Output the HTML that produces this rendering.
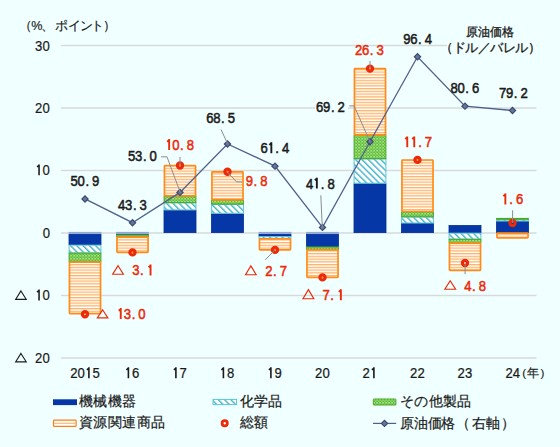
<!DOCTYPE html>
<html><head><meta charset="utf-8"><style>
html,body{margin:0;padding:0;background:#F0FFFF;}
body{width:560px;height:447px;overflow:hidden;}
svg{display:block;font-family:"Liberation Sans",sans-serif;}
</style></head><body>
<svg width="560" height="447" viewBox="0 0 560 447">
<defs>
<pattern id="pc" patternUnits="userSpaceOnUse" width="4.45" height="4.45" patternTransform="rotate(-45)">
<rect width="4.45" height="4.45" fill="#fff"/><rect width="1.4" height="4.45" fill="#42B4CA"/>
</pattern>
<pattern id="pg" patternUnits="userSpaceOnUse" width="3" height="3">
<rect width="3" height="3" fill="#8CD46A"/><rect x="0" y="0" width="1.5" height="1.5" fill="#5EBC34"/><rect x="1.5" y="1.5" width="1.5" height="1.5" fill="#5EBC34"/><rect x="1.5" y="0.2" width="1.1" height="1.1" fill="#C8EEB4"/>
</pattern>
<pattern id="po" patternUnits="userSpaceOnUse" width="2.75" height="2.75">
<rect width="2.75" height="2.75" fill="#fff"/><rect y="0" width="2.75" height="1.3" fill="#FFB468"/>
</pattern>
</defs>
<rect width="560" height="447" fill="#F0FFFF"/>
<line x1="61" y1="45.50" x2="536.5" y2="45.50" stroke="#D9D9D9" stroke-width="1.3"/>
<line x1="61" y1="108.00" x2="536.5" y2="108.00" stroke="#D9D9D9" stroke-width="1.3"/>
<line x1="61" y1="170.50" x2="536.5" y2="170.50" stroke="#D9D9D9" stroke-width="1.3"/>
<line x1="61" y1="233.00" x2="536.5" y2="233.00" stroke="#D9D9D9" stroke-width="1.3"/>
<line x1="61" y1="295.50" x2="536.5" y2="295.50" stroke="#D9D9D9" stroke-width="1.3"/>
<line x1="61" y1="358.00" x2="536.5" y2="358.00" stroke="#D9D9D9" stroke-width="1.3"/>
<rect x="68.60" y="231.9" width="32.80" height="0.9" fill="#7D9BDA"/>
<rect x="69.00" y="234.10" width="32.00" height="10.50" fill="#0537A6" stroke="#002E96" stroke-width="0.8"/>
<rect x="69.10" y="245.20" width="31.80" height="7.60" fill="url(#pc)" stroke="#5CC4D8" stroke-width="1"/>
<rect x="69.10" y="253.20" width="31.80" height="8.60" fill="url(#pg)" stroke="#4CA820" stroke-width="1"/>
<rect x="69.45" y="262.10" width="31.10" height="51.55" rx="0.6" fill="url(#po)" stroke="#FF8C1A" stroke-width="1.7"/>
<rect x="116.10" y="231.9" width="32.80" height="0.9" fill="#7D9BDA"/>
<rect x="116.50" y="234.10" width="32.00" height="0.30" fill="#0537A6" stroke="#002E96" stroke-width="0.8"/>
<rect x="116.60" y="235.00" width="31.80" height="1.80" fill="url(#pg)" stroke="#4CA820" stroke-width="1"/>
<rect x="116.95" y="237.10" width="31.10" height="15.20" rx="0.6" fill="url(#po)" stroke="#FF8C1A" stroke-width="1.7"/>
<rect x="164.00" y="210.50" width="32.00" height="22.10" fill="#0537A6" stroke="#002E96" stroke-width="0.8"/>
<rect x="164.10" y="202.95" width="31.80" height="6.95" fill="url(#pc)" stroke="#5CC4D8" stroke-width="1"/>
<rect x="164.10" y="196.20" width="31.80" height="6.35" fill="url(#pg)" stroke="#4CA820" stroke-width="1"/>
<rect x="164.45" y="165.60" width="31.10" height="30.30" rx="0.6" fill="url(#po)" stroke="#FF8C1A" stroke-width="1.7"/>
<rect x="211.50" y="213.90" width="32.00" height="18.70" fill="#0537A6" stroke="#002E96" stroke-width="0.8"/>
<rect x="211.60" y="204.50" width="31.80" height="8.80" fill="url(#pc)" stroke="#5CC4D8" stroke-width="1"/>
<rect x="211.60" y="200.20" width="31.80" height="3.90" fill="url(#pg)" stroke="#4CA820" stroke-width="1"/>
<rect x="211.95" y="171.85" width="31.10" height="28.05" rx="0.6" fill="url(#po)" stroke="#FF8C1A" stroke-width="1.7"/>
<rect x="258.60" y="231.9" width="32.80" height="0.9" fill="#7D9BDA"/>
<rect x="259.00" y="234.10" width="32.00" height="2.00" fill="#0537A6" stroke="#002E96" stroke-width="0.8"/>
<rect x="259.10" y="236.70" width="31.80" height="1.90" fill="url(#pc)" stroke="#5CC4D8" stroke-width="1"/>
<rect x="259.45" y="238.90" width="31.10" height="11.00" rx="0.6" fill="url(#po)" stroke="#FF8C1A" stroke-width="1.7"/>
<rect x="306.10" y="231.9" width="32.80" height="0.9" fill="#7D9BDA"/>
<rect x="306.50" y="234.10" width="32.00" height="12.40" fill="#0537A6" stroke="#002E96" stroke-width="0.8"/>
<rect x="306.60" y="247.10" width="31.80" height="2.50" fill="url(#pg)" stroke="#4CA820" stroke-width="1"/>
<rect x="306.95" y="249.90" width="31.10" height="27.40" rx="0.6" fill="url(#po)" stroke="#FF8C1A" stroke-width="1.7"/>
<rect x="354.00" y="183.80" width="32.00" height="48.80" fill="#0537A6" stroke="#002E96" stroke-width="0.8"/>
<rect x="354.10" y="159.00" width="31.80" height="24.20" fill="url(#pc)" stroke="#5CC4D8" stroke-width="1"/>
<rect x="354.10" y="135.20" width="31.80" height="23.40" fill="url(#pg)" stroke="#4CA820" stroke-width="1"/>
<rect x="354.45" y="68.70" width="31.10" height="66.20" rx="0.6" fill="url(#po)" stroke="#FF8C1A" stroke-width="1.7"/>
<rect x="401.50" y="223.60" width="32.00" height="9.00" fill="#0537A6" stroke="#002E96" stroke-width="0.8"/>
<rect x="401.60" y="217.10" width="31.80" height="5.90" fill="url(#pc)" stroke="#5CC4D8" stroke-width="1"/>
<rect x="401.60" y="211.80" width="31.80" height="4.90" fill="url(#pg)" stroke="#4CA820" stroke-width="1"/>
<rect x="401.95" y="160.00" width="31.10" height="51.50" rx="0.6" fill="url(#po)" stroke="#FF8C1A" stroke-width="1.7"/>
<rect x="449.00" y="225.50" width="32.00" height="7.10" fill="#0537A6" stroke="#002E96" stroke-width="0.8"/>
<rect x="449.10" y="233.20" width="31.80" height="5.80" fill="url(#pc)" stroke="#5CC4D8" stroke-width="1"/>
<rect x="449.10" y="239.40" width="31.80" height="3.40" fill="url(#pg)" stroke="#4CA820" stroke-width="1"/>
<rect x="449.45" y="243.10" width="31.10" height="27.20" rx="0.6" fill="url(#po)" stroke="#FF8C1A" stroke-width="1.7"/>
<rect x="496.50" y="221.60" width="32.00" height="11.00" fill="#0537A6" stroke="#002E96" stroke-width="0.8"/>
<rect x="496.60" y="219.70" width="31.80" height="1.30" fill="url(#pc)" stroke="#5CC4D8" stroke-width="1"/>
<rect x="496.60" y="218.40" width="31.80" height="0.90" fill="url(#pg)" stroke="#4CA820" stroke-width="1"/>
<rect x="496.95" y="233.10" width="31.10" height="4.80" rx="0.6" fill="url(#po)" stroke="#FF8C1A" stroke-width="1.7"/>
<polyline points="85.00,198.94 132.50,222.69 180.00,192.38 227.50,143.94 275.00,166.12 322.50,227.38 370.00,141.75 417.50,56.75 465.00,106.13 512.50,110.50" fill="none" stroke="#50608C" stroke-width="1.3"/>
<rect x="82.80" y="196.74" width="4.4" height="4.4" transform="rotate(45 85.00 198.94)" fill="#66769C" stroke="#3A4A70" stroke-width="1.2"/>
<rect x="130.30" y="220.49" width="4.4" height="4.4" transform="rotate(45 132.50 222.69)" fill="#66769C" stroke="#3A4A70" stroke-width="1.2"/>
<rect x="177.80" y="190.18" width="4.4" height="4.4" transform="rotate(45 180.00 192.38)" fill="#66769C" stroke="#3A4A70" stroke-width="1.2"/>
<rect x="225.30" y="141.74" width="4.4" height="4.4" transform="rotate(45 227.50 143.94)" fill="#66769C" stroke="#3A4A70" stroke-width="1.2"/>
<rect x="272.80" y="163.93" width="4.4" height="4.4" transform="rotate(45 275.00 166.12)" fill="#66769C" stroke="#3A4A70" stroke-width="1.2"/>
<rect x="320.30" y="225.18" width="4.4" height="4.4" transform="rotate(45 322.50 227.38)" fill="#66769C" stroke="#3A4A70" stroke-width="1.2"/>
<rect x="367.80" y="139.55" width="4.4" height="4.4" transform="rotate(45 370.00 141.75)" fill="#66769C" stroke="#3A4A70" stroke-width="1.2"/>
<rect x="415.30" y="54.55" width="4.4" height="4.4" transform="rotate(45 417.50 56.75)" fill="#66769C" stroke="#3A4A70" stroke-width="1.2"/>
<rect x="462.80" y="103.93" width="4.4" height="4.4" transform="rotate(45 465.00 106.13)" fill="#66769C" stroke="#3A4A70" stroke-width="1.2"/>
<rect x="510.30" y="108.30" width="4.4" height="4.4" transform="rotate(45 512.50 110.50)" fill="#66769C" stroke="#3A4A70" stroke-width="1.2"/>
<circle cx="85.00" cy="314.25" r="2.6" fill="none" stroke="#EC2A0A" stroke-width="3.2"/>
<circle cx="132.50" cy="252.38" r="2.6" fill="none" stroke="#EC2A0A" stroke-width="3.2"/>
<circle cx="180.00" cy="165.50" r="2.6" fill="none" stroke="#EC2A0A" stroke-width="3.2"/>
<circle cx="227.50" cy="171.75" r="2.6" fill="none" stroke="#EC2A0A" stroke-width="3.2"/>
<circle cx="275.00" cy="249.88" r="2.6" fill="none" stroke="#EC2A0A" stroke-width="3.2"/>
<circle cx="322.50" cy="277.38" r="2.6" fill="none" stroke="#EC2A0A" stroke-width="3.2"/>
<circle cx="370.00" cy="68.62" r="2.6" fill="none" stroke="#EC2A0A" stroke-width="3.2"/>
<circle cx="417.50" cy="159.88" r="2.6" fill="none" stroke="#EC2A0A" stroke-width="3.2"/>
<circle cx="465.00" cy="263.00" r="2.6" fill="none" stroke="#EC2A0A" stroke-width="3.2"/>
<circle cx="512.50" cy="223.00" r="2.6" fill="none" stroke="#EC2A0A" stroke-width="3.2"/>
<polyline points="161.00,156.80 167.00,156.80 180.20,192.30" fill="none" stroke="#8C8C8C" stroke-width="1"/>
<polyline points="221.00,129.50 227.50,143.50" fill="none" stroke="#8C8C8C" stroke-width="1"/>
<polyline points="349.30,105.90 354.10,105.90 370.00,141.75" fill="none" stroke="#8C8C8C" stroke-width="1"/>
<polyline points="320.80,195.40 322.30,227.40" fill="none" stroke="#8C8C8C" stroke-width="1"/>
<polyline points="180.00,157.00 180.00,165.50" fill="none" stroke="#8C8C8C" stroke-width="1"/>
<polyline points="227.30,172.00 236.60,181.90 242.00,181.90" fill="none" stroke="#8C8C8C" stroke-width="1"/>
<polyline points="275.40,249.60 265.20,259.80" fill="none" stroke="#8C8C8C" stroke-width="1"/>
<polyline points="370.00,61.00 370.00,68.60" fill="none" stroke="#8C8C8C" stroke-width="1"/>
<polyline points="465.10,262.70 465.10,274.10" fill="none" stroke="#8C8C8C" stroke-width="1"/>
<polyline points="512.60,210.30 512.60,223.00" fill="none" stroke="#8C8C8C" stroke-width="1"/>
<rect x="315" y="99" width="33" height="14" fill="#F0FFFF"/>
<text x="83.49 91.78 101.07 108.93" y="186.10" transform="scale(0.845,1.000)" font-size="15.50" fill="#1a1a1a" stroke="#1a1a1a" stroke-width="0.55">50.9</text>
<text x="139.70 147.99 157.28 165.15" y="209.60" transform="scale(0.845,1.000)" font-size="15.50" fill="#1a1a1a" stroke="#1a1a1a" stroke-width="0.55">43.3</text>
<text x="151.54 159.82 169.11 176.98" y="161.00" transform="scale(0.845,1.000)" font-size="15.50" fill="#1a1a1a" stroke="#1a1a1a" stroke-width="0.55">53.0</text>
<text x="244.08 252.37 261.66 269.53" y="122.90" transform="scale(0.845,1.000)" font-size="15.50" fill="#1a1a1a" stroke="#1a1a1a" stroke-width="0.55">68.5</text>
<text x="308.22 325.80 333.67" y="153.20" transform="scale(0.845,1.000)" font-size="15.50" fill="#1a1a1a" stroke="#1a1a1a" stroke-width="0.55">6.4</text>
<path d="M271.35 142.30V153.20 M269.35 144.90L271.75 142.80" fill="none" stroke="#1a1a1a" stroke-width="1.90" stroke-linecap="butt"/>
<text x="362.07 379.64 387.51" y="188.60" transform="scale(0.845,1.000)" font-size="15.50" fill="#1a1a1a" stroke="#1a1a1a" stroke-width="0.55">4.8</text>
<path d="M316.85 177.70V188.60 M314.85 180.30L317.25 178.20" fill="none" stroke="#1a1a1a" stroke-width="1.90" stroke-linecap="butt"/>
<text x="374.02 382.31 391.60 399.47" y="112.00" transform="scale(0.845,1.000)" font-size="15.50" fill="#1a1a1a" stroke="#1a1a1a" stroke-width="0.55">69.2</text>
<text x="477.16 485.44 494.73 502.60" y="44.00" transform="scale(0.845,1.000)" font-size="15.50" fill="#1a1a1a" stroke="#1a1a1a" stroke-width="0.55">96.4</text>
<text x="533.08 541.36 550.65 558.52" y="92.90" transform="scale(0.845,1.000)" font-size="15.50" fill="#1a1a1a" stroke="#1a1a1a" stroke-width="0.55">80.6</text>
<text x="590.47 598.76 608.05 615.92" y="97.70" transform="scale(0.845,1.000)" font-size="15.50" fill="#1a1a1a" stroke="#1a1a1a" stroke-width="0.55">79.2</text>
<text x="146.57 155.86 163.73" y="319.00" transform="scale(0.845,1.000)" font-size="15.50" fill="#EC2A0A" stroke="#EC2A0A" stroke-width="0.55">3.0</text>
<path d="M120.75 308.10V319.00 M118.75 310.70L121.15 308.60" fill="none" stroke="#EC2A0A" stroke-width="1.90" stroke-linecap="butt"/>
<polygon points="102.60,309.70 107.90,317.90 97.30,317.90" fill="none" stroke="#EC2A0A" stroke-width="1.15" stroke-linejoin="miter"/>
<text x="156.39 165.68" y="275.50" transform="scale(0.845,1.000)" font-size="15.50" fill="#EC2A0A" stroke="#EC2A0A" stroke-width="0.55">3.</text>
<path d="M150.55 264.60V275.50 M148.55 267.20L150.95 265.10" fill="none" stroke="#EC2A0A" stroke-width="1.90" stroke-linecap="butt"/>
<polygon points="118.05,265.70 123.40,274.20 112.70,274.20" fill="none" stroke="#EC2A0A" stroke-width="1.15" stroke-linejoin="miter"/>
<text x="203.85 213.14 221.01" y="150.00" transform="scale(0.845,1.000)" font-size="15.50" fill="#EC2A0A" stroke="#EC2A0A" stroke-width="0.55">0.8</text>
<path d="M169.15 139.10V150.00 M167.15 141.70L169.55 139.60" fill="none" stroke="#EC2A0A" stroke-width="1.90" stroke-linecap="butt"/>
<text x="290.83 300.12 307.99" y="186.40" transform="scale(0.845,1.000)" font-size="15.50" fill="#EC2A0A" stroke="#EC2A0A" stroke-width="0.55">9.8</text>
<text x="313.79 323.08 330.95" y="276.00" transform="scale(0.845,1.000)" font-size="15.50" fill="#EC2A0A" stroke="#EC2A0A" stroke-width="0.55">2.7</text>
<polygon points="250.85,265.90 256.20,274.70 245.50,274.70" fill="none" stroke="#EC2A0A" stroke-width="1.15" stroke-linejoin="miter"/>
<text x="381.60 390.89" y="300.20" transform="scale(0.845,1.000)" font-size="15.50" fill="#EC2A0A" stroke="#EC2A0A" stroke-width="0.55">7.</text>
<path d="M340.85 289.30V300.20 M338.85 291.90L341.25 289.80" fill="none" stroke="#EC2A0A" stroke-width="1.90" stroke-linecap="butt"/>
<polygon points="308.40,289.60 313.80,298.70 303.00,298.70" fill="none" stroke="#EC2A0A" stroke-width="1.15" stroke-linejoin="miter"/>
<text x="420.06 428.34 437.63 445.50" y="55.00" transform="scale(0.845,1.000)" font-size="15.50" fill="#EC2A0A" stroke="#EC2A0A" stroke-width="0.55">26.3</text>
<text x="494.91 502.78" y="147.30" transform="scale(0.845,1.000)" font-size="15.50" fill="#EC2A0A" stroke="#EC2A0A" stroke-width="0.55">.7</text>
<path d="M407.25 136.40V147.30 M405.25 139.00L407.65 136.90" fill="none" stroke="#EC2A0A" stroke-width="1.90" stroke-linecap="butt"/>
<path d="M414.25 136.40V147.30 M412.25 139.00L414.65 136.90" fill="none" stroke="#EC2A0A" stroke-width="1.90" stroke-linecap="butt"/>
<text x="549.41 558.70 566.57" y="290.70" transform="scale(0.845,1.000)" font-size="15.50" fill="#EC2A0A" stroke="#EC2A0A" stroke-width="0.55">4.8</text>
<polygon points="450.20,280.70 455.60,289.20 444.80,289.20" fill="none" stroke="#EC2A0A" stroke-width="1.15" stroke-linejoin="miter"/>
<text x="602.72 610.59" y="204.40" transform="scale(0.845,1.000)" font-size="15.50" fill="#EC2A0A" stroke="#EC2A0A" stroke-width="0.55">.6</text>
<path d="M505.35 193.50V204.40 M503.35 196.10L505.75 194.00" fill="none" stroke="#EC2A0A" stroke-width="1.90" stroke-linecap="butt"/>
<text x="41.48 50.30" y="50.70" transform="scale(0.845,1.000)" font-size="15.50" fill="#1a1a1a" stroke="#1a1a1a" stroke-width="0.20">30</text>
<text x="41.48 50.30" y="113.50" transform="scale(0.845,1.000)" font-size="15.50" fill="#1a1a1a" stroke="#1a1a1a" stroke-width="0.20">20</text>
<text x="50.41" y="175.30" transform="scale(0.845,1.000)" font-size="15.50" fill="#1a1a1a" stroke="#1a1a1a" stroke-width="0.20">0</text>
<path d="M39.05 164.40V175.30 M37.05 167.00L39.45 164.90" fill="none" stroke="#1a1a1a" stroke-width="1.55" stroke-linecap="butt"/>
<text x="50.47" y="238.50" transform="scale(0.845,1.000)" font-size="15.50" fill="#1a1a1a" stroke="#1a1a1a" stroke-width="0.20">0</text>
<text x="50.41" y="300.50" transform="scale(0.845,1.000)" font-size="15.50" fill="#1a1a1a" stroke="#1a1a1a" stroke-width="0.20">0</text>
<path d="M39.05 289.60V300.50 M37.05 292.20L39.45 290.10" fill="none" stroke="#1a1a1a" stroke-width="1.55" stroke-linecap="butt"/>
<text x="41.48 50.30" y="363.00" transform="scale(0.845,1.000)" font-size="15.50" fill="#1a1a1a" stroke="#1a1a1a" stroke-width="0.20">20</text>
<polygon points="20.95,290.95 26.20,299.30 15.70,299.30" fill="none" stroke="#1a1a1a" stroke-width="1.15" stroke-linejoin="miter"/>
<polygon points="20.95,353.45 26.20,361.80 15.70,361.80" fill="none" stroke="#1a1a1a" stroke-width="1.15" stroke-linejoin="miter"/>
<text x="83.08 91.83 109.35" y="378.20" transform="scale(0.845,1.000)" font-size="15.50" fill="#1a1a1a" stroke="#1a1a1a" stroke-width="0.25">205</text>
<path d="M88.90 367.30V378.20 M86.90 369.90L89.30 367.80" fill="none" stroke="#1a1a1a" stroke-width="1.60" stroke-linecap="butt"/>
<text x="156.09" y="378.20" transform="scale(0.845,1.000)" font-size="15.50" fill="#1a1a1a" stroke="#1a1a1a" stroke-width="0.25">6</text>
<path d="M128.40 367.30V378.20 M126.40 369.90L128.80 367.80" fill="none" stroke="#1a1a1a" stroke-width="1.60" stroke-linecap="butt"/>
<text x="212.31" y="378.20" transform="scale(0.845,1.000)" font-size="15.50" fill="#1a1a1a" stroke="#1a1a1a" stroke-width="0.25">7</text>
<path d="M175.90 367.30V378.20 M173.90 369.90L176.30 367.80" fill="none" stroke="#1a1a1a" stroke-width="1.60" stroke-linecap="butt"/>
<text x="268.52" y="378.20" transform="scale(0.845,1.000)" font-size="15.50" fill="#1a1a1a" stroke="#1a1a1a" stroke-width="0.25">8</text>
<path d="M223.40 367.30V378.20 M221.40 369.90L223.80 367.80" fill="none" stroke="#1a1a1a" stroke-width="1.60" stroke-linecap="butt"/>
<text x="324.73" y="378.20" transform="scale(0.845,1.000)" font-size="15.50" fill="#1a1a1a" stroke="#1a1a1a" stroke-width="0.25">9</text>
<path d="M270.90 367.30V378.20 M268.90 369.90L271.30 367.80" fill="none" stroke="#1a1a1a" stroke-width="1.60" stroke-linecap="butt"/>
<text x="372.90 381.66" y="378.20" transform="scale(0.845,1.000)" font-size="15.50" fill="#1a1a1a" stroke="#1a1a1a" stroke-width="0.25">20</text>
<text x="429.11" y="378.20" transform="scale(0.845,1.000)" font-size="15.50" fill="#1a1a1a" stroke="#1a1a1a" stroke-width="0.25">2</text>
<path d="M373.90 367.30V378.20 M371.90 369.90L374.30 367.80" fill="none" stroke="#1a1a1a" stroke-width="1.60" stroke-linecap="butt"/>
<text x="485.33 494.08" y="378.20" transform="scale(0.845,1.000)" font-size="15.50" fill="#1a1a1a" stroke="#1a1a1a" stroke-width="0.25">22</text>
<text x="541.54 550.30" y="378.20" transform="scale(0.845,1.000)" font-size="15.50" fill="#1a1a1a" stroke="#1a1a1a" stroke-width="0.25">23</text>
<text x="598.17 606.92" y="378.20" transform="scale(0.845,1.000)" font-size="15.50" fill="#1a1a1a" stroke="#1a1a1a" stroke-width="0.25">24</text>
<text x="522.3" y="376.8" font-size="11.6" fill="#1a1a1a" stroke="#1a1a1a" stroke-width="0.15">(</text>
<text x="527.2" y="377.3" font-size="12.3" fill="#1a1a1a" stroke="#1a1a1a" stroke-width="0.2">年</text>
<text x="540.5" y="376.8" font-size="11.6" fill="#1a1a1a" stroke="#1a1a1a" stroke-width="0.15">)</text>
<text x="18.5 31.3 41.2 54.8 67.6 79.5 90.8 102.5" y="30.2" font-size="12.6" fill="#1a1a1a" stroke="#1a1a1a" stroke-width="0.15">（%、ポイント）</text>
<rect x="447" y="40" width="89" height="14" fill="#F0FFFF"/>
<text x="466.2" y="35.8" font-size="12.2" fill="#1a1a1a" stroke="#1a1a1a" stroke-width="0.3">原油価格</text>
<text x="440" y="51.8" font-size="12.5" letter-spacing="-0.5" fill="#1a1a1a" stroke="#1a1a1a" stroke-width="0.3">（ドル／バレル）</text>
<rect x="53" y="399.3" width="24" height="5.8" fill="#0537A6"/>
<text x="79" y="406.2" font-size="13.8" letter-spacing="0.4" fill="#1a1a1a" stroke="#1a1a1a" stroke-width="0.2">機械機器</text>
<rect x="53.5" y="420.2" width="22.6" height="6.1" rx="0.5" fill="#fff" stroke="#FF7F10" stroke-width="1.2"/>
<line x1="54" y1="423.25" x2="75.6" y2="423.25" stroke="#FFA050" stroke-width="0.9"/>
<text x="79" y="427.4" font-size="13.8" letter-spacing="0.4" fill="#1a1a1a" stroke="#1a1a1a" stroke-width="0.2">資源関連商品</text>
<rect x="213" y="399.4" width="23.6" height="5.2" fill="url(#pc)" stroke="#5CC4D8" stroke-width="1"/>
<text x="239.5" y="406.2" font-size="13.8" letter-spacing="0.4" fill="#1a1a1a" stroke="#1a1a1a" stroke-width="0.2">化学品</text>
<circle cx="224.7" cy="423.3" r="2.6" fill="#FFFFFF" stroke="#EC2A0A" stroke-width="2.8"/>
<text x="239.5" y="427.4" font-size="13.8" letter-spacing="0.4" fill="#1a1a1a" stroke="#1a1a1a" stroke-width="0.2">総額</text>
<rect x="373.3" y="399" width="22.6" height="6" rx="0.5" fill="url(#pg)" stroke="#4CA820" stroke-width="1"/>
<text x="400" y="406.3" font-size="13.8" letter-spacing="0.25" fill="#1a1a1a" stroke="#1a1a1a" stroke-width="0.2">その他製品</text>
<line x1="373" y1="423.4" x2="396.2" y2="423.4" stroke="#50608C" stroke-width="1.2"/>
<rect x="382.3" y="421.2" width="4.4" height="4.4" transform="rotate(45 384.5 423.4)" fill="#66769C" stroke="#3A4A70" stroke-width="1.2"/>
<text x="400 413.8 427.6 441.4 455.6 471.6 486.2 500.8" y="428.4" font-size="14" fill="#1a1a1a" stroke="#1a1a1a" stroke-width="0.2">原油価格（右軸）</text>
</svg>
</body></html>
